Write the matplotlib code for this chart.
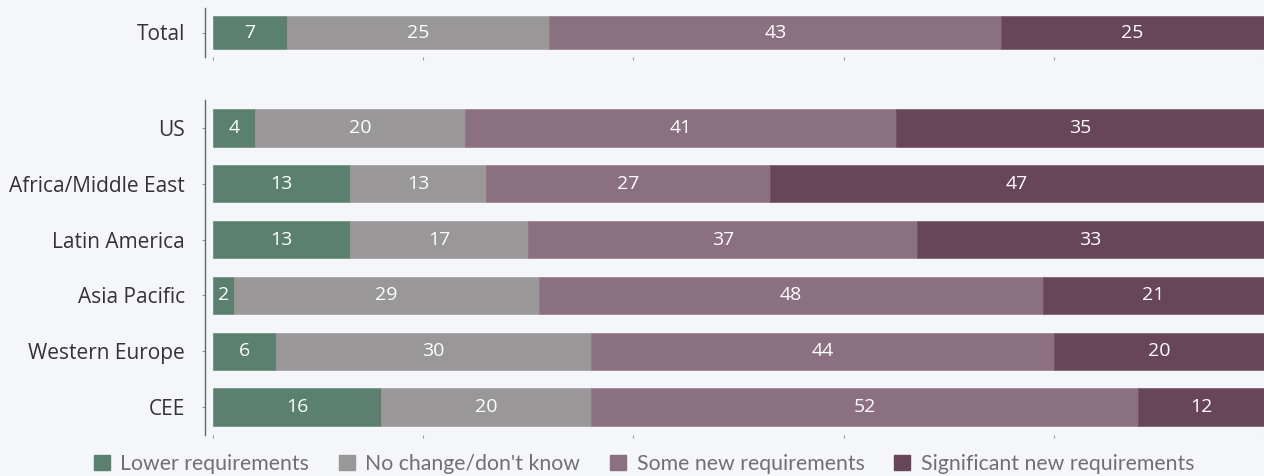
import matplotlib
matplotlib.use("Agg")
import matplotlib.pyplot as plt
import numpy as np

# survey shares (%) per region
series = ["Lower requirements", "No change/don't know",
          "Some new requirements", "Significant new requirements"]
colors = ["#5b8070", "#999798", "#8a7080", "#67465a"]

total_label = ["Total"]
total_values = [[7], [25], [43], [25]]

regions = ["US", "Africa/Middle East", "Latin America", "Asia Pacific",
           "Western Europe", "CEE"]
lower = [4, 13, 13, 2, 6, 16]
no_change = [20, 13, 17, 29, 30, 20]
some_new = [41, 27, 37, 48, 44, 52]
significant = [35, 47, 33, 21, 20, 12]

bg = "#f5f6fa"
plt.rcParams["font.family"] = ["Open Sans", "DejaVu Sans"]

fig = plt.figure(figsize=(12.64, 4.76), dpi=100, facecolor=bg)
W, H = 1264, 476


def px_axes(x0, y0, x1, y1):
    return fig.add_axes([x0 / W, 1 - y1 / H, (x1 - x0) / W, (y1 - y0) / H])


def stacked(ax, labels, values):
    y = np.arange(len(labels))
    left = np.zeros(len(labels))
    for vals, col in zip(values, colors):
        vals = np.array(vals, dtype=float)
        bars = ax.barh(y, vals, left=left, height=0.67, color=col,
                       edgecolor=col, linewidth=0.4)
        for b, v in zip(bars, vals):
            ax.text(b.get_x() + b.get_width() / 2, b.get_y() + b.get_height() / 2,
                    f"{v:g}", ha="center", va="center", color="white",
                    fontsize=14)
        left += vals
    ax.set_xlim(0, 100)
    ax.set_ylim(len(labels) - 0.5, -0.5)
    ax.set_facecolor(bg)
    for s in ("top", "right", "bottom"):
        ax.spines[s].set_visible(False)
    ax.spines["left"].set_position(("outward", 6))
    ax.spines["left"].set_color("#666666")
    ax.spines["left"].set_linewidth(1)
    ax.tick_params(axis="y", length=2, color="#999999", pad=12,
                   labelsize=15, labelcolor="#333333")
    ax.tick_params(axis="x", length=2, color="#999999")
    ax.set_yticks(y)
    ax.set_yticklabels(labels)
    ax.set_xticks([0, 20, 40, 60, 80, 100])
    ax.set_xticklabels([])


ax_top = px_axes(213, 8, 1264, 57)
stacked(ax_top, total_label, total_values)

ax_bot = px_axes(213, 100, 1264, 435)
stacked(ax_bot, regions, [lower, no_change, some_new, significant])

handles = [plt.Rectangle((0, 0), 1, 1, color=c) for c in colors]
fig.legend(handles, series, loc="center", bbox_to_anchor=(644 / W, 1 - 464 / H),
           ncol=4, frameon=False, prop={"family": "Lato", "size": 15.3},
           labelcolor="#707070",
           handlelength=0.75, handleheight=0.75, handletextpad=0.5,
           columnspacing=1.4)

fig.savefig("out.png", dpi=100, facecolor=bg)
